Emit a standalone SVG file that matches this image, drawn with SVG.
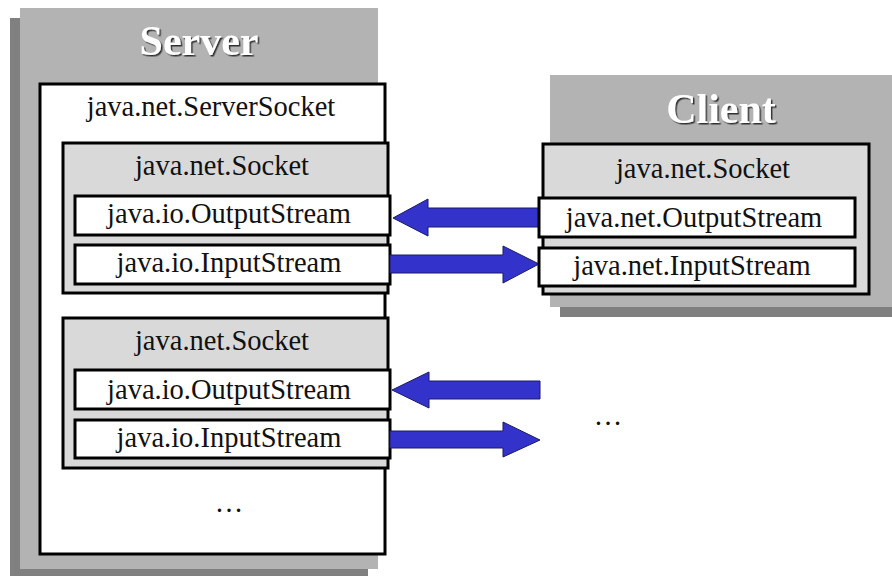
<svg xmlns="http://www.w3.org/2000/svg" width="892" height="576" viewBox="0 0 892 576">
<defs>
<filter id="ds" x="-10%" y="-20%" width="130%" height="150%">
<feDropShadow dx="1.5" dy="1.5" stdDeviation="0.6" flood-color="#333" flood-opacity="1"/>
</filter>
</defs>
<style>
.shadow{fill:#7f807f}
.panel{fill:#b3b3b3}
.box{fill:#ffffff;stroke:#000;stroke-width:3}
.sock{fill:#d9d9d9;stroke:#000;stroke-width:3}
.t{font-family:"Liberation Serif","Times New Roman",serif;font-size:28.5px;fill:#111;text-anchor:middle}
.title{font-family:"Liberation Serif","Times New Roman",serif;font-size:42px;font-weight:bold;text-anchor:middle;fill:#fff;filter:url(#ds)}
.arrow{fill:#3333cc;stroke:#1a1a66;stroke-width:1}
</style>
<rect width="892" height="576" fill="#fff"/>
<g id="server">
<rect class="shadow" x="10" y="18" width="358" height="558"/>
<rect class="panel" x="20" y="8" width="358" height="561"/>
<text class="title" x="199" y="55">Server</text>
</g>
<g id="serversocket">
<rect class="box" x="40" y="84" width="345" height="470"/>
<text class="t" x="211" y="116">java.net.ServerSocket</text>
<text class="t" x="229" y="512">…</text>
</g>
<g id="socket1">
<rect class="sock" x="63" y="143" width="325" height="150"/>
<text class="t" x="222" y="175">java.net.Socket</text>
</g>
<g id="out1">
<rect class="box" x="75" y="196" width="315" height="39"/>
<text class="t" x="229" y="223">java.io.OutputStream</text>
</g>
<g id="in1">
<rect class="box" x="75" y="245" width="315" height="39"/>
<text class="t" x="229" y="272">java.io.InputStream</text>
</g>
<g id="socket2">
<rect class="sock" x="63" y="318" width="325" height="150"/>
<text class="t" x="222" y="350">java.net.Socket</text>
</g>
<g id="out2">
<rect class="box" x="75" y="370" width="315" height="39"/>
<text class="t" x="229" y="399">java.io.OutputStream</text>
</g>
<g id="in2">
<rect class="box" x="75" y="420" width="315" height="38"/>
<text class="t" x="229" y="447">java.io.InputStream</text>
</g>
<g id="client">
<rect class="shadow" x="560" y="85" width="332" height="232"/>
<rect class="panel" x="550" y="75" width="342" height="232"/>
<text class="title" x="721" y="123">Client</text>
</g>
<g id="connectors">
<polygon class="arrow" points="393,218 428,199 428,208 540,208 540,227 428,227 428,236"/>
<polygon class="arrow" points="390,255 503,255 503,246 539,264 503,283 503,273 390,273"/>
<polygon class="arrow" points="392,390 429,372 429,381 540,381 540,399 429,399 429,408"/>
<polygon class="arrow" points="390,431 503,431 503,422 540,440 503,457 503,448 390,448"/>
</g>
<g id="clientsocket">
<rect class="sock" x="543" y="144" width="326" height="150"/>
<text class="t" x="703" y="178">java.net.Socket</text>
</g>
<g id="cout">
<rect class="box" x="539" y="198" width="316" height="39"/>
<text class="t" x="694" y="227">java.net.OutputStream</text>
</g>
<g id="cin">
<rect class="box" x="539" y="248" width="316" height="38"/>
<text class="t" x="692" y="275">java.net.InputStream</text>
</g>
<text class="t" x="608" y="425">…</text>
</svg>
